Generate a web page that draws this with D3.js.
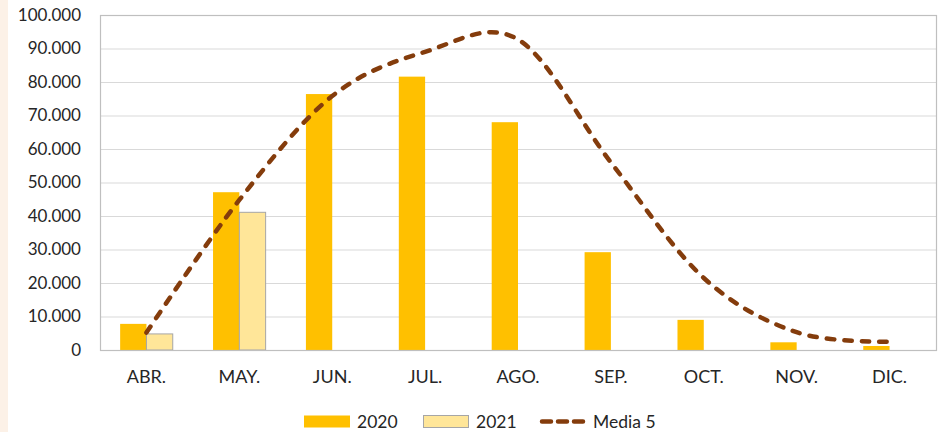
<!DOCTYPE html>
<html>
<head>
<meta charset="utf-8">
<script src="https://cdn.jsdelivr.net/npm/d3@7"></script>
<style>
  body { margin: 0; background: #fff; }
  svg { display: block; font-family: Lato, "Open Sans", sans-serif; }
</style>
</head>
<body>
<svg id="chart"></svg>
<script>
const months = ['ABR.', 'MAY.', 'JUN.', 'JUL.', 'AGO.', 'SEP.', 'OCT.', 'NOV.', 'DIC.'];
const values2020 = [7800, 47100, 76400, 81600, 68000, 29200, 9000, 2300, 1200];
const values2021 = [4800, 41100, null, null, null, null, null, null, null];
const media5 = [5200, 44800, 75800, 89000, 92700, 56000, 21500, 5300, 2500];
const yTicks = [0, 10000, 20000, 30000, 40000, 50000, 60000, 70000, 80000, 90000, 100000];
const seriesNames = ['2020', '2021'];

const W = 940, H = 432;
const margin = {top: 15, right: 4, bottom: 82, left: 100};
const width = W - margin.left - margin.right,
	height = H - margin.top - margin.bottom;

const colors = {'2020': '#FFC000', '2021': '#FFE699'};
const lineColor = '#843C0C';

const svg = d3.select('#chart').attr('width', W).attr('height', H);

// beige strip on the left edge
svg.append('rect').attr('x', 0).attr('y', 0).attr('width', 8).attr('height', H).attr('fill', '#FCF1E7');

const x0 = d3.scaleBand().domain(months).range([0, width]).paddingInner(0).paddingOuter(0);
const x1 = d3.scaleBand().domain(seriesNames).range([0, x0.bandwidth()]).paddingInner(0).paddingOuter(0.766);
const y = d3.scaleLinear().domain([0, 100000]).range([height, 0]);

const fmt = v => d3.format(',')(v).replace(/,/g, '.');

const g = svg.append('g').attr('transform', `translate(${margin.left},${margin.top})`);

// gridlines
g.append('g')
	.selectAll('line').data(yTicks.slice(1)).join('line')
	.attr('x1', 0).attr('x2', width)
	.attr('y1', d => y(d) + 0.5).attr('y2', d => y(d) + 0.5)
	.attr('stroke', '#D9D9D9').attr('stroke-width', 1);

// y axis labels
const yAxis = d3.axisLeft(y).tickValues(yTicks).tickFormat(fmt).tickSize(0).tickPadding(19);
g.append('g').call(yAxis)
	.call(s => s.select('.domain').remove())
	.selectAll('text')
	.attr('font-family', 'Lato, sans-serif')
	.attr('font-size', 17).attr('fill', '#262626');

// bars
const rows = months.map((m, i) => ({m, vals: [
	{k: '2020', v: values2020[i]},
	{k: '2021', v: values2021[i]}
].filter(d => d.v != null)}));

const grp = g.append('g').selectAll('g').data(rows).join('g')
	.attr('transform', d => `translate(${x0(d.m)},0)`);

grp.selectAll('rect').data(d => d.vals).join('rect')
	.attr('x', d => x1(d.k))
	.attr('y', d => y(d.v))
	.attr('width', x1.bandwidth())
	.attr('height', d => height - y(d.v))
	.attr('fill', d => colors[d.k])
	.attr('stroke', d => d.k === '2021' ? '#A6A6A6' : 'none')
	.attr('stroke-width', 1);

// plot border
g.append('rect')
	.attr('x', 0.5).attr('y', 0.5).attr('width', width).attr('height', height)
	.attr('fill', 'none').attr('stroke', '#BFBFBF').attr('stroke-width', 1.2);

// media line
const line = d3.line()
	.x((d, i) => x0(months[i]) + x0.bandwidth() / 2)
	.y(d => y(d))
	.curve(d3.curveCardinal.tension(0));

g.append('path').datum(media5)
	.attr('d', line)
	.attr('fill', 'none')
	.attr('stroke', lineColor)
	.attr('stroke-width', 4.5)
	.attr('stroke-linecap', 'round')
	.attr('stroke-dasharray', '7.5 10');

// x axis labels
const xAxis = d3.axisBottom(x0).tickSize(0).tickPadding(20);
g.append('g').attr('transform', `translate(0,${height})`).call(xAxis)
	.call(s => s.select('.domain').remove())
	.selectAll('text')
	.attr('font-family', 'Lato, sans-serif')
	.attr('font-size', 18).attr('fill', '#262626');

// legend
const legend = svg.append('g').attr('font-size', 17.5).attr('fill', '#262626');
const legendY = 421.5;
legend.append('rect').attr('x', 304).attr('y', legendY - 6).attr('width', 46).attr('height', 12).attr('fill', colors['2020']);
legend.append('text').attr('x', 357).attr('y', legendY + 6).text('2020');
legend.append('rect').attr('x', 423.5).attr('y', legendY - 6).attr('width', 45).attr('height', 12)
	.attr('fill', colors['2021']).attr('stroke', '#A6A6A6');
legend.append('text').attr('x', 476).attr('y', legendY + 6).text('2021');
legend.append('line').attr('x1', 542).attr('x2', 585).attr('y1', legendY).attr('y2', legendY)
	.attr('stroke', lineColor).attr('stroke-width', 4.5).attr('stroke-linecap', 'round')
	.attr('stroke-dasharray', '9 7');
legend.append('text').attr('x', 593).attr('y', legendY + 6).text('Media 5');
</script>
</body>
</html>
